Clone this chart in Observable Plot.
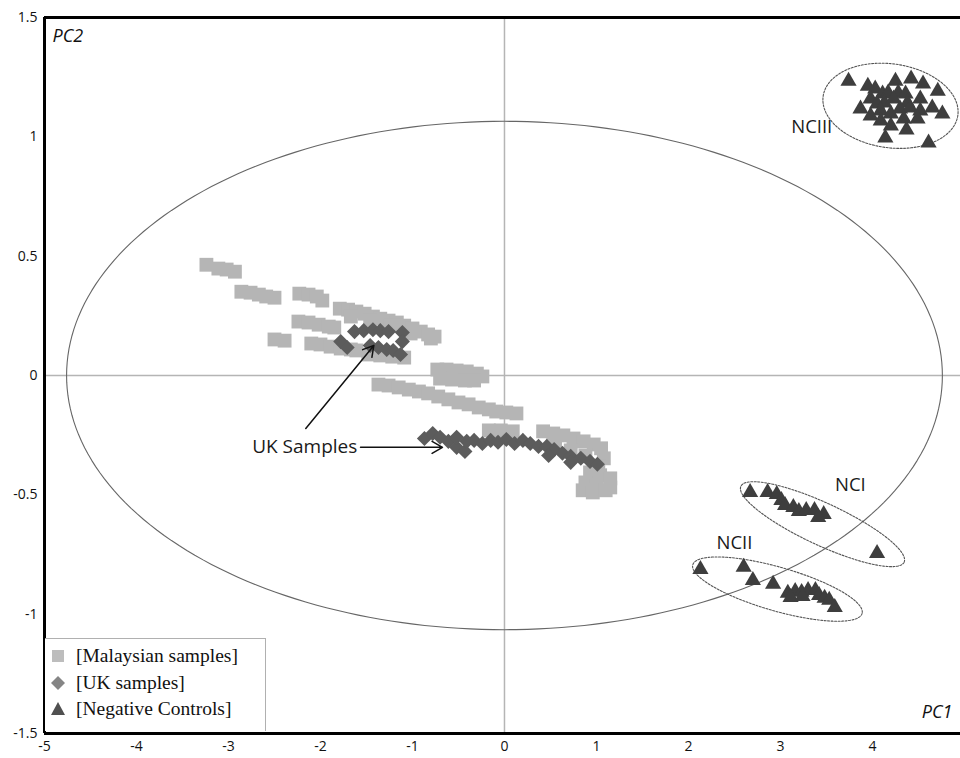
<!DOCTYPE html>
<html>
<head>
<meta charset="utf-8">
<script src="https://cdn.jsdelivr.net/npm/d3@7"></script>
<script src="https://cdn.jsdelivr.net/npm/@observablehq/plot@0.6"></script>
<style>
  html, body { margin: 0; padding: 0; background: #fff; }
  #wrap { position: relative; width: 960px; height: 758px; overflow: hidden; }
  #legend {
    position: absolute; left: 45px; top: 638px; width: 221px; height: 93px;
    box-sizing: border-box; border: 1.5px solid #b0b0b0; border-left: none; border-bottom: none;
    background: #fff; font-family: "Liberation Serif", serif; font-size: 19.5px; color: #111;
  }
  #legend .row { position: absolute; left: 3px; display: flex; align-items: center; height: 24px; }
  #legend .row svg { width: 20px; height: 20px; margin-right: 8px; }
</style>
</head>
<body>
<div id="wrap">
  <div id="chart"></div>
  <div id="legend">
    <div class="row" style="top:5px"><svg viewBox="0 0 20 20"><rect x="4" y="4" width="12" height="12" fill="#bdbdbd"/></svg>[Malaysian samples]</div>
    <div class="row" style="top:32px"><svg viewBox="0 0 20 20"><path d="M10 3 L17 10 L10 17 L3 10 Z" fill="#858585"/></svg>[UK samples]</div>
    <div class="row" style="top:58px"><svg viewBox="0 0 20 20"><path d="M10 3 L17 16 L3 16 Z" fill="#505050"/></svg>[Negative Controls]</div>
  </div>
</div>
<script>
// ---------------- Data ----------------
const malaysianX = [
  -3.24, -3.11, -3.02, -2.93,
  -2.86, -2.76, -2.67, -2.59, -2.50,
  -2.23, -2.13, -2.04, -1.98,
  -1.79, -1.70, -1.61, -1.52, -1.43, -1.35, -1.26, -1.17, -1.09, -1.00, -0.91, -0.83, -0.76,
  -1.67, -1.46, -1.24, -1.02, -0.80,
  -2.24, -2.13, -2.02, -1.91, -1.85,
  -2.50, -2.39,
  -2.10, -2.00, -1.89, -1.78, -1.67, -1.61,
  -1.48, -1.35, -1.22, -1.09,
  -0.73, -0.63, -0.52, -0.41, -0.30, -0.24, -0.70, -0.57, -0.43, -0.33,
  -1.37, -1.26, -1.15, -1.04, -0.93, -0.83, -0.72, -0.61, -0.50, -0.39, -0.28, -0.17, -0.09, 0.02, 0.13,
  -0.17, -0.04, 0.09,
  0.42, 0.53, 0.64, 0.75, 0.86, 0.97, 1.05, 1.08, 1.02, 0.93, 1.04, 1.15, 0.88, 1.00, 1.15, 0.85, 0.96, 1.10,
  0.55, 0.72, 0.88
];
const malaysianY = [
  0.464, 0.448, 0.444, 0.435,
  0.351, 0.347, 0.339, 0.331, 0.326,
  0.343, 0.339, 0.331, 0.314,
  0.280, 0.276, 0.268, 0.259, 0.247, 0.238, 0.230, 0.222, 0.209, 0.197, 0.184, 0.172, 0.163,
  0.247, 0.230, 0.209, 0.176, 0.155,
  0.226, 0.222, 0.213, 0.205, 0.201,
  0.151, 0.146,
  0.134, 0.130, 0.121, 0.113, 0.109, 0.105,
  0.088, 0.084, 0.079, 0.075,
  0.025, 0.025, 0.021, 0.017, 0.008, -0.004, -0.013, -0.017, -0.021, -0.021,
  -0.038, -0.042, -0.050, -0.059, -0.067, -0.075, -0.088, -0.100, -0.113, -0.121, -0.134, -0.142, -0.151, -0.155, -0.159,
  -0.230, -0.230, -0.234,
  -0.234, -0.243, -0.251, -0.264, -0.276, -0.289, -0.305, -0.347, -0.381, -0.406, -0.418, -0.431, -0.448, -0.460, -0.469, -0.481, -0.490, -0.481,
  -0.293, -0.314, -0.335
];

const ukX = [
  -1.78, -1.71, -1.63, -1.53, -1.43, -1.35, -1.26, -1.11, -1.11, -1.46, -1.37, -1.28, -1.21, -1.13,
  -0.87, -0.78, -0.70, -0.61, -0.52, -0.43, -0.41, -0.33, -0.24, -0.15, -0.07, 0.02, 0.11, 0.20,
  0.28, 0.37, 0.46, 0.54, 0.63, 0.72, 0.83, 0.93, 1.01, -0.52, 0.48, 0.72
];
const ukY = [
  0.142, 0.117, 0.184, 0.188, 0.192, 0.188, 0.184, 0.180, 0.142, 0.126, 0.117, 0.109, 0.105, 0.088,
  -0.264, -0.243, -0.259, -0.276, -0.301, -0.318, -0.276, -0.272, -0.285, -0.272, -0.280, -0.268, -0.285, -0.272,
  -0.285, -0.297, -0.297, -0.310, -0.326, -0.339, -0.347, -0.360, -0.372, -0.259, -0.335, -0.364
];

// Negative controls: NCIII, NCI, NCII
const negX = [
  3.74, 3.95, 4.03, 4.25, 4.42, 4.55, 4.71, 4.11, 4.17, 4.28, 4.36, 3.98, 4.05, 4.13, 4.23, 4.38, 4.52,
  3.87, 3.98, 4.09, 4.20, 4.30, 4.41, 4.52, 4.65, 4.76, 4.09, 4.20, 4.34, 4.49, 4.14, 4.37, 4.61,
  2.67, 2.86, 2.96, 3.01, 3.05, 3.14, 3.20, 3.28, 3.37, 3.47, 3.41, 4.05,
  2.13, 2.60, 2.70, 2.92, 3.08, 3.16, 3.23, 3.30, 3.38, 3.42, 3.48, 3.53, 3.59, 3.11, 3.24
];
const negY = [
  1.234, 1.213, 1.201, 1.234, 1.243, 1.222, 1.192, 1.180, 1.184, 1.184, 1.180, 1.159, 1.138, 1.142, 1.159, 1.142, 1.159,
  1.117, 1.088, 1.109, 1.096, 1.117, 1.121, 1.109, 1.121, 1.096, 1.067, 1.046, 1.075, 1.075, 0.996, 1.029, 0.975,
  -0.490, -0.490, -0.498, -0.523, -0.544, -0.552, -0.569, -0.565, -0.565, -0.582, -0.594, -0.745,
  -0.812, -0.803, -0.858, -0.874, -0.912, -0.904, -0.908, -0.900, -0.900, -0.921, -0.933, -0.941, -0.971, -0.929, -0.925
];

const xTicks = [-5, -4, -3, -2, -1, 0, 1, 2, 3, 4];
const yTicks = [-1.5, -1, -0.5, 0, 0.5, 1, 1.5];

// Annotations
const groupLabels = ["NCIII", "NCI", "NCII"];
const groupLabelX = [3.34, 3.76, 2.50];
const groupLabelY = [1.042, -0.46, -0.703];

// Ellipses: centre and two conjugate semi-diameters (data units)
const ellipses = [
  {id: "all",   cx: 0,     cy: 0,      ux: 4.76,  uy: 0,      vx: 0,      vy: 1.065, dashed: false},
  {id: "NCIII", cx: 4.196, cy: 1.130,  ux: 0.732, uy: -0.040, vx: -0.063, vy: -0.174, dashed: true},
  {id: "NCI",   cx: 3.457, cy: -0.623, ux: 0.887, uy: -0.159, vx: -0.097, vy: -0.080, dashed: true},
  {id: "NCII",  cx: 2.967, cy: -0.895, ux: 0.920, uy: -0.102, vx: -0.066, vy: -0.088, dashed: true}
];

const arrows = [
  {x1: -1.565, y1: -0.301, x2: -0.674, y2: -0.301},
  {x1: -2.16,  y1: -0.222, x2: -1.42,  y2: 0.126}
];
const ukLabel = {text: "UK Samples", x: -1.60, y: -0.301};

const xDomain = [-5, 4.957];
const yDomain = [-1.5, 1.5];

// ---------------- Build tables ----------------
const malaysian = malaysianX.map((x, i) => ({x, y: malaysianY[i]}));
const uk = ukX.map((x, i) => ({x, y: ukY[i]}));
const neg = negX.map((x, i) => ({x, y: negY[i]}));
const labels = groupLabels.map((t, i) => ({t, x: groupLabelX[i], y: groupLabelY[i]}));

const N = 240;
const ellipsePts = [];
for (const e of ellipses) {
  for (let k = 0; k < N; k++) {
    const t = (2 * Math.PI * k) / N;
    ellipsePts.push({
      id: e.id, dashed: e.dashed,
      x: e.cx + e.ux * Math.cos(t) + e.vx * Math.sin(t),
      y: e.cy + e.uy * Math.cos(t) + e.vy * Math.sin(t)
    });
  }
}

const fontSans = "'Open Sans', sans-serif";

const chart = Plot.plot({
  width: 960,
  height: 758,
  marginLeft: 44,
  marginRight: 0,
  marginTop: 17,
  marginBottom: 25,
  style: {fontFamily: fontSans, fontSize: "14px", background: "#fff", overflow: "visible"},
  x: {domain: xDomain, label: null},
  y: {domain: yDomain, label: null},
  marks: [
    Plot.ruleX([0], {stroke: "#b5b5b5", strokeWidth: 1.5}),
    Plot.ruleY([0], {stroke: "#b5b5b5", strokeWidth: 1.5}),
    Plot.line(ellipsePts.filter(d => !d.dashed), {x: "x", y: "y", z: "id", curve: "linear-closed", stroke: "#666", strokeWidth: 1.1}),
    Plot.line(ellipsePts.filter(d => d.dashed), {x: "x", y: "y", z: "id", curve: "linear-closed", stroke: "#555", strokeWidth: 1.1, strokeDasharray: "2,1.5"}),
    Plot.dot(malaysian, {x: "x", y: "y", symbol: "square", r: 7.8, fill: "#b5b5b5"}),
    Plot.dot(uk, {x: "x", y: "y", symbol: "diamond2", r: 6.8, fill: "#5c5c5c"}),
    Plot.dot(neg, {x: "x", y: "y", symbol: "triangle", r: 6.0, fill: "#3e3e3e"}),
    Plot.text(labels, {x: "x", y: "y", text: "t", textAnchor: "middle", fontSize: 18.5, fill: "#1a1a1a"}),
    Plot.text([ukLabel], {x: "x", y: "y", text: "text", textAnchor: "end", fontSize: 19, fill: "#1a1a1a"}),
    Plot.arrow(arrows, {x1: "x1", y1: "y1", x2: "x2", y2: "y2", stroke: "#111", strokeWidth: 1.5, headLength: 12}),
    Plot.ruleX([xDomain[0]], {stroke: "#000", strokeWidth: 3}),
    Plot.ruleY(yDomain, {stroke: "#000", strokeWidth: 3}),
    Plot.axisX({ticks: xTicks, tickFormat: d => String(d), tickSize: 0, tickPadding: 8, fontSize: 14, fill: "#111", label: null}),
    Plot.axisY({ticks: yTicks, tickFormat: d => String(d), tickSize: 0, tickPadding: 7, fontSize: 14, fill: "#111", label: null}),
    Plot.text(["PC2"], {frameAnchor: "top-left", dx: 8, dy: 12, fontSize: 18, fontStyle: "italic", fill: "#111"}),
    Plot.text(["PC1"], {frameAnchor: "bottom-right", dx: -8, dy: -16, fontSize: 18, fontStyle: "italic", fill: "#111"})
  ]
});
document.getElementById("chart").appendChild(chart);
</script>
</body>
</html>
